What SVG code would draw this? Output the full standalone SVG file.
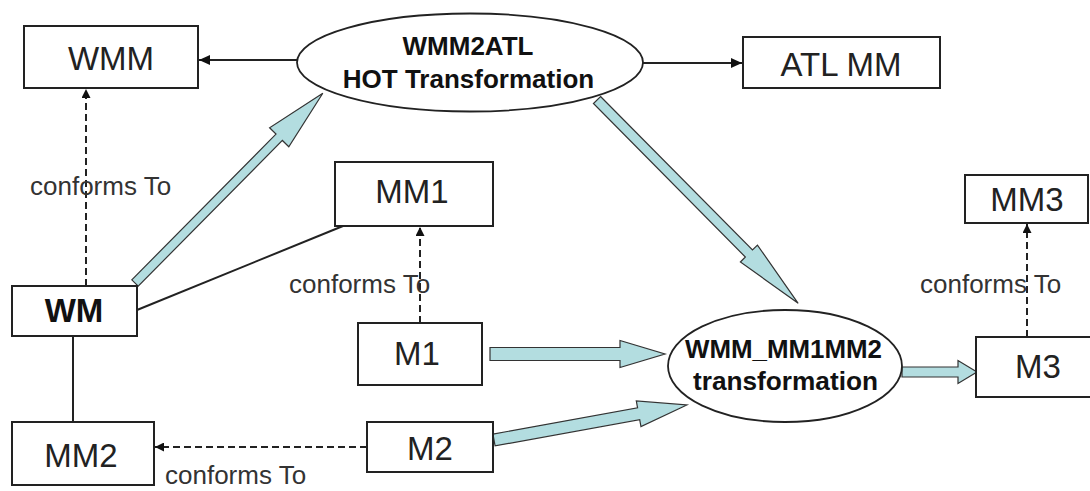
<svg xmlns="http://www.w3.org/2000/svg" width="1090" height="491" viewBox="0 0 1090 491">
<style>
.box{fill:#fff;stroke:#222;stroke-width:2}
.ell{fill:#fff;stroke:#222;stroke-width:1.8}
.lbl{font-family:"Liberation Sans",Arial,sans-serif;font-size:33px;fill:#222;text-anchor:middle}
.bold{font-family:"Liberation Sans",Arial,sans-serif;font-weight:bold;fill:#111;text-anchor:middle}
.ct{font-family:"Liberation Sans",Arial,sans-serif;font-size:26px;fill:#333}
.line{stroke:#222;stroke-width:2;fill:none}
.dash{stroke:#222;stroke-width:2;fill:none;stroke-dasharray:7 4}
.big{fill:#b3dde0;stroke:#333;stroke-width:1.2;stroke-linejoin:miter}
</style>
<defs>
<marker id="ah" markerUnits="userSpaceOnUse" markerWidth="12" markerHeight="10" refX="11" refY="5" orient="auto">
<path d="M0,0 L11,5 L0,10 z" fill="#111"/>
</marker>
<marker id="ahs" markerUnits="userSpaceOnUse" markerWidth="10" markerHeight="9" refX="9" refY="4.5" orient="auto">
<path d="M0,0 L9,4.5 L0,9 z" fill="#111"/>
</marker>
</defs>
<rect width="1090" height="491" fill="#fff"/>
<g id="connectors">
<line class="line" x1="297" y1="60" x2="199" y2="60" marker-end="url(#ah)"/>
<line class="line" x1="643" y1="63" x2="742" y2="63" marker-end="url(#ah)"/>
<line class="dash" x1="86" y1="286" x2="86" y2="89" marker-end="url(#ahs)"/>
<line class="line" x1="137" y1="310" x2="343" y2="226"/>
<line class="line" x1="73" y1="336" x2="73" y2="422"/>
<line class="dash" x1="420" y1="323" x2="420" y2="227" marker-end="url(#ahs)"/>
<line class="dash" x1="367" y1="447" x2="155" y2="447" marker-end="url(#ahs)"/>
<line class="dash" x1="1027" y1="337" x2="1027" y2="224" marker-end="url(#ahs)"/>
<polygon class="big" transform="translate(135,283) rotate(-45.3)" points="0,-4.5 205,-4.5 205,-13.5 267,0 205,13.5 205,4.5 0,4.5"/>
<polygon class="big" transform="translate(597,100) rotate(45.3)" points="0,-5 216,-5 216,-12 286,0 216,12 216,5 0,5"/>
<polygon class="big" transform="translate(490,354)" points="0,-6.5 130,-6.5 130,-13.5 175,0 130,13.5 130,6.5 0,6.5"/>
<polygon class="big" transform="translate(494,440) rotate(-10.3)" points="0,-6 147,-6 147,-13 196,0 147,13 147,6 0,6"/>
<polygon class="big" transform="translate(902,372)" points="0,-5 56,-5 56,-11.5 75,0 56,11.5 56,5 0,5"/>
<text class="ct" x="30" y="195">conforms To</text>
<text class="ct" x="289" y="293">conforms To</text>
<text class="ct" x="165" y="484">conforms To</text>
<text class="ct" x="920" y="293">conforms To</text>
</g>
<g id="WMM"><rect class="box" x="24" y="26" width="174" height="62"/><text class="lbl" x="111" y="70">WMM</text></g>
<g id="ATLMM"><rect class="box" x="743" y="37" width="197" height="51"/><text class="lbl" x="841" y="76">ATL MM</text></g>
<g id="HOT"><ellipse class="ell" cx="470" cy="62.5" rx="173" ry="49"/>
<text class="bold" x="468" y="55" font-size="26">WMM2ATL</text>
<text class="bold" x="468.5" y="88" font-size="26">HOT Transformation</text></g>
<g id="MM1"><rect class="box" x="335" y="162" width="158" height="64"/><text class="lbl" x="412" y="203">MM1</text></g>
<g id="WM"><rect class="box" x="12" y="286" width="125" height="50"/><text class="bold" x="74" y="322" font-size="33">WM</text></g>
<g id="MM2"><rect class="box" x="12" y="422" width="142" height="63"/><text class="lbl" x="81" y="467">MM2</text></g>
<g id="M1"><rect class="box" x="358" y="323" width="124" height="62"/><text class="lbl" x="417" y="365">M1</text></g>
<g id="M2"><rect class="box" x="367" y="422" width="126" height="50"/><text class="lbl" x="430" y="460">M2</text></g>
<g id="MM1MM2"><ellipse class="ell" cx="785" cy="366" rx="117" ry="56"/>
<text class="bold" x="783.5" y="358" font-size="25" textLength="197" lengthAdjust="spacingAndGlyphs">WMM_MM1MM2</text>
<text class="bold" x="785.5" y="390" font-size="25" textLength="185" lengthAdjust="spacingAndGlyphs">transformation</text></g>
<g id="MM3"><rect class="box" x="965" y="175" width="123" height="48"/><text class="lbl" x="1027" y="211">MM3</text></g>
<g id="M3"><rect class="box" x="976" y="337" width="120" height="60"/><text class="lbl" x="1038" y="378">M3</text></g>
</svg>
